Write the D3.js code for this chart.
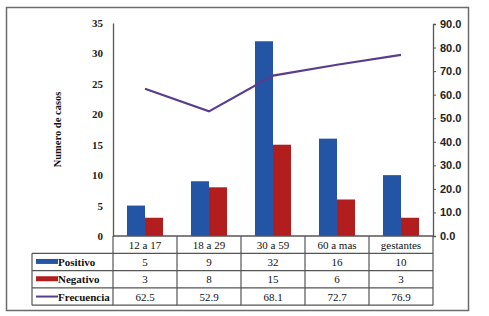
<!DOCTYPE html>
<html>
<head>
<meta charset="utf-8">
<script src="https://cdn.jsdelivr.net/npm/d3@7"></script>
<style>
  body { margin: 0; background: #fff; }
</style>
</head>
<body>
<div id="chart"></div>
<script>
var categories = ['12 a 17', '18 a 29', '30 a 59', '60 a mas', 'gestantes']
var positivo = [5, 9, 32, 16, 10]
var negativo = [3, 8, 15, 6, 3]
var frecuencia = [62.5, 52.9, 68.1, 72.7, 76.9]
var leftTicks = [0, 5, 10, 15, 20, 25, 30, 35]
var rightTicks = [0, 10, 20, 30, 40, 50, 60, 70, 80, 90]

var width = 489, height = 316

var colors = { Positivo: '#2454a4', Negativo: '#b21e1e', Frecuencia: '#5a3c8c' }

var svg = d3.select('#chart').append('svg')
    .attr('width', width)
    .attr('height', height)

// outer frame
svg.append('rect')
    .attr('x', 6.5).attr('y', 7.5)
    .attr('width', 462).attr('height', 303)
    .attr('fill', 'none')
    .attr('stroke', '#6b6b6b')
    .attr('stroke-width', 1.5)

var plotLeft = 113, plotRight = 433, plotTop = 23, plotBottom = 236

var x = d3.scaleBand()
    .domain(categories)
    .range([plotLeft, plotRight])
    .paddingInner(0.4375)
    .paddingOuter(0.21875)

var x1 = d3.scaleBand()
    .domain(['Positivo', 'Negativo'])
    .range([0, x.bandwidth()])

var y = d3.scaleLinear().domain([0, 35]).range([plotBottom, plotTop])
var y2 = d3.scaleLinear().domain([0, 90]).range([plotBottom, plotTop + 1])

// bars
var groups = svg.append('g')
    .selectAll('g')
    .data(categories)
    .enter()
    .append('g')
    .attr('transform', function(d) { return 'translate(' + x(d) + ',0)' })

groups.selectAll('rect')
    .data(function(d, i) {
        return [{ key: 'Positivo', v: positivo[i] }, { key: 'Negativo', v: negativo[i] }]
    })
    .enter()
    .append('rect')
    .attr('x', function(d) { return x1(d.key) })
    .attr('y', function(d) { return y(d.v) })
    .attr('width', x1.bandwidth())
    .attr('height', function(d) { return plotBottom - y(d.v) })
    .attr('fill', function(d) { return colors[d.key] })

// line (frecuencia)
var line = d3.line()
    .x(function(d, i) { return x(categories[i]) + x.bandwidth() / 2 })
    .y(function(d) { return y2(d) })

svg.append('path')
    .datum(frecuencia)
    .attr('d', line)
    .attr('fill', 'none')
    .attr('stroke', colors.Frecuencia)
    .attr('stroke-width', 2.2)

// left axis
var leftAxis = svg.append('g')
    .attr('transform', 'translate(' + plotLeft + ',0)')
    .call(d3.axisLeft(y).tickValues(leftTicks).tickSize(0).tickPadding(10))
leftAxis.select('.domain').attr('stroke', '#555').attr('stroke-width', 1.3)
leftAxis.selectAll('text')
    .attr('font-size', 11)
    .attr('font-weight', 'bold')
    .attr('fill', '#222')

// right axis
var rightAxis = svg.append('g')
    .attr('transform', 'translate(' + plotRight + ',0)')
    .call(d3.axisRight(y2).tickValues(rightTicks).tickSize(3).tickSizeOuter(3).tickPadding(4)
        .tickFormat(d3.format('.1f')))
rightAxis.select('.domain').attr('stroke', '#555').attr('stroke-width', 1.3)
rightAxis.selectAll('line').attr('stroke', '#555')
rightAxis.selectAll('text')
    .attr('font-size', 11)
    .attr('font-weight', 'bold')
    .attr('fill', '#222')

// y label
svg.append('text')
    .attr('transform', 'translate(61,' + ((plotTop + plotBottom) / 2) + ') rotate(-90)')
    .attr('text-anchor', 'middle')
    .attr('font-size', 10.5)
    .attr('font-weight', 'bold')
    .attr('fill', '#111')
    .text('Numero de casos')

// data table
var rowH = 17.3
var tableLeft = 32
var rows = [
    { name: 'Positivo', values: positivo, fmt: d3.format('d') },
    { name: 'Negativo', values: negativo, fmt: d3.format('d') },
    { name: 'Frecuencia', values: frecuencia, fmt: d3.format('.1f') }
]
var table = svg.append('g')
var lineColor = '#555'

// horizontal lines
table.append('line')
    .attr('x1', plotLeft).attr('x2', plotRight)
    .attr('y1', plotBottom).attr('y2', plotBottom)
    .attr('stroke', lineColor).attr('stroke-width', 1.3)
for (var r = 1; r <= 4; r++) {
    table.append('line')
        .attr('x1', tableLeft).attr('x2', plotRight)
        .attr('y1', plotBottom + r * rowH).attr('y2', plotBottom + r * rowH)
        .attr('stroke', lineColor).attr('stroke-width', 1.2)
}
// vertical lines
table.append('line')
    .attr('x1', tableLeft).attr('x2', tableLeft)
    .attr('y1', plotBottom + rowH).attr('y2', plotBottom + 4 * rowH)
    .attr('stroke', lineColor).attr('stroke-width', 1.2)
var colEdges = [plotLeft].concat(categories.map(function(c) { return x(c) + x.step() - x.step() * x.paddingInner() / 2 }))
colEdges.forEach(function(cx) {
    table.append('line')
        .attr('x1', cx).attr('x2', cx)
        .attr('y1', plotBottom).attr('y2', plotBottom + 4 * rowH)
        .attr('stroke', lineColor).attr('stroke-width', 1.2)
})

// header labels
table.selectAll('text.cat')
    .data(categories)
    .enter()
    .append('text')
    .attr('class', 'cat')
    .attr('x', function(d) { return x(d) + x.bandwidth() / 2 })
    .attr('y', plotBottom + rowH / 2 + 4)
    .attr('text-anchor', 'middle')
    .attr('font-size', 11)
    .attr('fill', '#111')
    .text(function(d) { return d })

rows.forEach(function(row, ri) {
    var cy = plotBottom + (ri + 1) * rowH + rowH / 2
    // legend key
    if (row.name === 'Frecuencia') {
        table.append('line')
            .attr('x1', 36).attr('x2', 58)
            .attr('y1', cy).attr('y2', cy)
            .attr('stroke', colors[row.name]).attr('stroke-width', 2)
    } else {
        table.append('rect')
            .attr('x', 36).attr('y', cy - 3)
            .attr('width', 22).attr('height', 5)
            .attr('fill', colors[row.name])
    }
    table.append('text')
        .attr('x', 58).attr('y', cy + 4)
        .attr('font-size', 11)
        .attr('font-weight', 'bold')
        .attr('fill', '#111')
        .text(row.name)
    table.selectAll(null)
        .data(row.values)
        .enter()
        .append('text')
        .attr('x', function(d, i) { return x(categories[i]) + x.bandwidth() / 2 })
        .attr('y', cy + 4)
        .attr('text-anchor', 'middle')
        .attr('font-size', 11)
        .attr('fill', '#111')
        .text(function(d) { return row.fmt(d) })
})

// serif everywhere, right axis in sans like the original
svg.selectAll('text').attr('font-family', 'Liberation Serif')
rightAxis.selectAll('text').attr('font-family', 'Liberation Sans')
</script>
</body>
</html>
